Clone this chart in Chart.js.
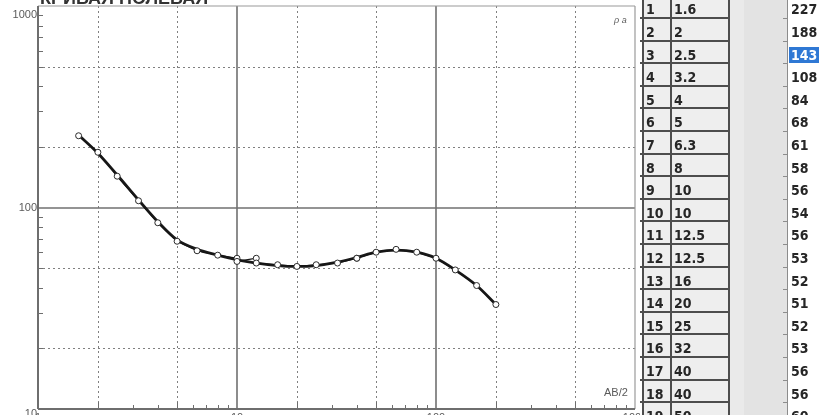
<!DOCTYPE html>
<html>
<head>
<meta charset="utf-8">
<script src="https://cdn.jsdelivr.net/npm/chart.js@4.4.1/dist/chart.umd.min.js"></script>
<style>
html, body { margin: 0; padding: 0; background: #fff; width: 838px; height: 415px; overflow: hidden; }
#wrap { position: relative; width: 838px; height: 415px; }
#chartBox { position: absolute; left: 0; top: 0; width: 640px; height: 415px; }
#table { position: absolute; left: 637px; top: 0; width: 201px; height: 415px; overflow: hidden;
         font: bold 14px "DejaVu Sans Condensed", "DejaVu Sans", sans-serif; color: #262626; }
.gap { position: absolute; left: 93px; top: 0; width: 57px; height: 415px; background: #e3e3e3; }
.gapLight { position: absolute; left: 93px; top: 0; width: 14px; height: 415px; background: #eaeaea; }
.cells { position: absolute; left: 5px; top: 0; width: 88px; height: 415px; background: #eeeeee; }
.vline { position: absolute; top: 0; height: 415px; width: 2px; background: #4d4d4d; }
.hline { position: absolute; left: 3px; width: 90px; height: 2px; background: #4d4d4d; }
.rhoLine { position: absolute; left: 150px; top: 0; width: 1px; height: 415px; background: #8c8c8c; }
.tick { position: absolute; left: 146px; width: 4px; height: 1px; background: #8c8c8c; }
.txt { position: absolute; height: 16px; line-height: 16px; white-space: nowrap; }
.sel { background: #2f78d4; color: #fff; padding: 0 2px; margin-left: -2px; }
</style>
</head>
<body>
<div id="wrap">
  <div id="chartBox"><canvas id="vesChart" width="640" height="415"></canvas></div>
  <div id="table">
    <div class="gap"></div>
    <div class="gapLight"></div>
    <div class="cells"></div>
    <div class="rhoLine"></div>
  </div>
</div>
<script>
// measured field curve (table on the right)
const ab2 = [1.6, 2, 2.5, 3.2, 4, 5, 6.3, 8, 10, 10, 12.5, 12.5, 16, 20, 25, 32, 40, 40, 50, 63, 80, 100, 125, 160, 200];
const rhoA = [227, 188, 143, 108, 84, 68, 61, 58, 56, 54, 56, 53, 52, 51, 52, 53, 56, 56, 60, 62, 60, 56, 49, 41, 33];

// smoothed curve (thick line)
const modelAb2 = [1.6, 2, 2.5, 3.2, 4, 5, 6.3, 8, 10, 12.5, 16, 20, 25, 32, 40, 50, 63, 80, 100, 125, 160, 200];
const modelRho = [229, 186, 145, 109, 85, 69, 62, 58, 55, 53, 51.5, 51, 51.5, 53.5, 56.5, 60, 61.5, 60, 56, 49, 41, 33];

// axes
const xTickLabels = ['1', '10', '100', '1000'];
const yTickLabels = ['10', '100', '1000'];
const dottedX = [2, 5, 20, 50, 200, 500];
const dottedY = [20, 50, 200, 500];
const minorSteps = [2, 3, 4, 5, 6, 7, 8, 9];
const selectedRow = 2;

// grid, frame, ticks and labels drawn against the chart's log scales
const ramka = {
    id: 'ramka',
    beforeDatasetsDraw(chart) {
        const { ctx, chartArea: a, scales: { x, y } } = chart;
        const seg = (x1, y1, x2, y2) => { ctx.beginPath(); ctx.moveTo(x1, y1); ctx.lineTo(x2, y2); ctx.stroke(); };
        ctx.save();

        // dotted grid at 2 and 5
        ctx.strokeStyle = '#808080';
        ctx.lineWidth = 1;
        ctx.setLineDash([2, 3]);
        dottedX.forEach(v => { const p = Math.round(x.getPixelForValue(v)) + 0.5; seg(p, a.top, p, a.bottom); });
        dottedY.forEach(v => { const p = Math.round(y.getPixelForValue(v)) + 0.5; seg(a.left, p, a.right, p); });
        ctx.setLineDash([]);

        // solid decade lines
        ctx.strokeStyle = '#707070';
        ctx.lineWidth = 1.6;
        [10, 100].forEach(v => { const p = Math.round(x.getPixelForValue(v)); seg(p, a.top, p, a.bottom); });
        [100].forEach(v => { const p = Math.round(y.getPixelForValue(v)); seg(a.left, p, a.right, p); });

        // outer border
        ctx.strokeStyle = '#9a9a9a';
        ctx.lineWidth = 1.2;
        seg(a.left, a.top, a.right, a.top);
        seg(a.right, a.top, a.right, a.bottom);

        // axis lines
        ctx.strokeStyle = '#6e6e6e';
        ctx.lineWidth = 2;
        seg(a.left, a.top, a.left, a.bottom);
        seg(a.left, a.bottom, a.right, a.bottom);

        // minor ticks
        ctx.lineWidth = 1;
        ctx.strokeStyle = '#6e6e6e';
        [1, 10, 100].forEach(d => minorSteps.forEach(m => {
            const p = Math.round(x.getPixelForValue(d * m)) + 0.5;
            const len = (m === 2 || m === 5) ? 7 : 4;
            seg(p, a.bottom, p, a.bottom - len);
        }));
        [10, 100].forEach(d => minorSteps.forEach(m => {
            const p = Math.round(y.getPixelForValue(d * m)) + 0.5;
            seg(a.left, p, a.left + 5, p);
        }));
        ctx.restore();
    },
    afterDraw(chart) {
        const { ctx, chartArea: a, scales: { x, y } } = chart;
        ctx.save();
        ctx.fillStyle = '#5a5a5a';
        ctx.font = '11px "Liberation Sans", Arial, sans-serif';

        // y labels
        ctx.textAlign = 'right';
        ctx.textBaseline = 'middle';
        yTickLabels.forEach(t => {
            let p = y.getPixelForValue(Number(t));
            if (p < a.top + 9) p = a.top + 9;
            ctx.fillText(t, a.left - 1, p + (t === '10' ? 5 : 0));
        });

        // x labels (cut by the bottom edge, as in the picture)
        ctx.textAlign = 'center';
        ctx.textBaseline = 'top';
        xTickLabels.forEach(t => {
            ctx.fillText(t, x.getPixelForValue(Number(t)), a.bottom + 3);
        });

        // axis names
        ctx.textAlign = 'left';
        ctx.textBaseline = 'alphabetic';
        ctx.font = '11px "Liberation Sans", Arial, sans-serif';
        ctx.fillText('AB/2', a.right - 31, a.bottom - 13);
        ctx.font = 'italic 9px "Liberation Sans", Arial, sans-serif';
        ctx.fillText('ρ a', a.right - 21, a.top + 17);

        // title, mostly above the visible area
        ctx.fillStyle = '#333';
        ctx.font = 'bold 18px "Liberation Sans", Arial, sans-serif';
        ctx.fillText('КРИВАЯ ПОЛЕВАЯ', a.left + 2, 4);
        ctx.restore();
    }
};

new Chart(document.getElementById('vesChart'), {
    type: 'scatter',
    data: {
        datasets: [
            {
                label: 'ρk',
                data: ab2.map((v, i) => ({ x: v, y: rhoA[i] })),
                showLine: true,
                borderColor: '#151515',
                borderWidth: 1.2,
                pointRadius: 3,
                pointBackgroundColor: '#ffffff',
                pointBorderColor: '#2a2a2a',
                pointBorderWidth: 1,
                order: 0
            },
            {
                label: 'model',
                data: modelAb2.map((v, i) => ({ x: v, y: modelRho[i] })),
                showLine: true,
                borderColor: '#1a1a1a',
                borderWidth: 2.8,
                cubicInterpolationMode: 'monotone',
                pointRadius: 0,
                order: 1
            }
        ]
    },
    options: {
        responsive: false,
        animation: false,
        devicePixelRatio: 1,
        layout: { padding: { left: 38, right: 3, top: 6, bottom: 6 } },
        plugins: { legend: { display: false }, tooltip: { enabled: false } },
        scales: {
            x: { type: 'logarithmic', min: 1, max: 1000, display: false },
            y: { type: 'logarithmic', min: 10, max: 1000, display: false }
        }
    },
    plugins: [ramka]
});

// table on the right
const table = document.getElementById('table');
const rowH = 22.6;
const row0 = -4.6;
function addEl(cls, styles, text) {
    const el = document.createElement('div');
    el.className = cls;
    Object.assign(el.style, styles);
    if (text !== undefined) el.textContent = text;
    table.appendChild(el);
    return el;
}
[5, 33, 91].forEach(l => addEl('vline', { left: l + 'px' }));
ab2.forEach((v, i) => {
    const top = row0 + i * rowH;
    addEl('hline', { top: (top + rowH - 1) + 'px' });
    addEl('tick', { top: (top + rowH) + 'px' });
    addEl('txt', { left: '9px', top: (top + 6) + 'px' }, String(i + 1));
    addEl('txt', { left: '37px', top: (top + 6) + 'px' }, String(v));
    const r = addEl('txt', { left: '154px', top: (top + 6) + 'px' });
    const s = document.createElement('span');
    s.textContent = String(rhoA[i]);
    if (i === selectedRow) s.className = 'sel';
    r.appendChild(s);
});
</script>
</body>
</html>
